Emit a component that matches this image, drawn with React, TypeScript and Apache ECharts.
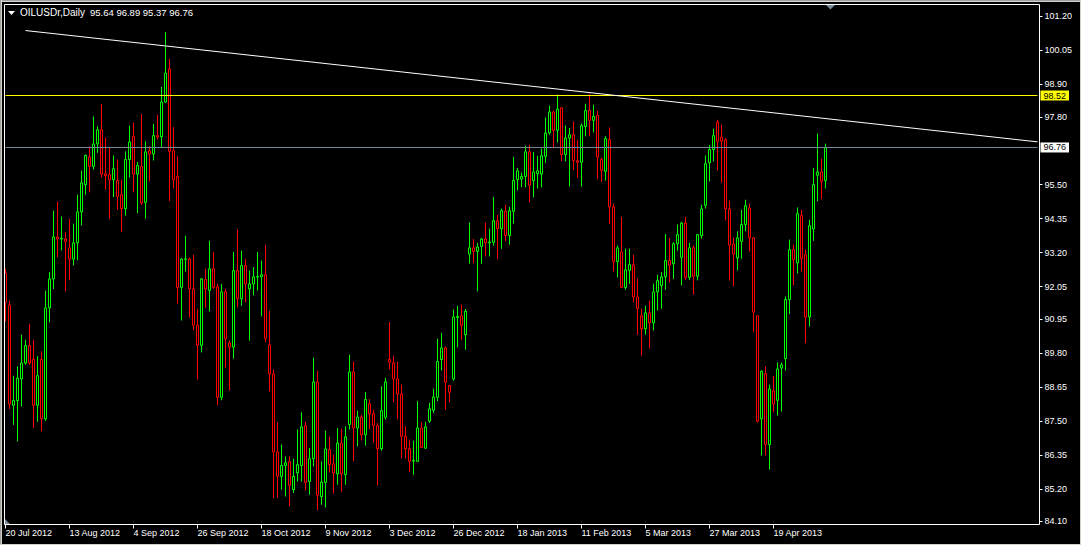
import React, { useEffect, useRef } from 'react';
import * as echarts from 'echarts';

const SYMBOL = 'OILUSDr,Daily';
const FONT = '"Liberation Sans", Arial, sans-serif';
const MONTHS = ['Jan', 'Feb', 'Mar', 'Apr', 'May', 'Jun', 'Jul', 'Aug', 'Sep', 'Oct', 'Nov', 'Dec'];
const START = [2012, 6, 20];
const HOLIDAYS = ['2012-12-25', '2013-01-01', '2013-03-29'];
const TOTAL_SLOTS = 259;
const LABEL_EVERY = 16;

const opens = [
  92.51, 91.43, 88.03, 88.19, 88.92, 89.46, 90.05, 89.58, 88.03, 89.58,
  87.57, 91.33, 92.31, 93.73, 93.66, 93.66, 93.36, 92.98, 93.53, 94.58,
  95.50, 96.44, 96.12, 96.88, 97.36, 95.87, 95.84, 95.67, 95.65, 95.16,
  94.69, 96.35, 97.14, 95.86, 96.12, 94.90, 96.65, 96.54, 97.16, 97.12,
  98.30, 99.42, 96.65, 95.78, 92.02, 92.97, 92.98, 91.97, 90.74, 90.06,
  92.28, 91.92, 92.65, 92.04, 88.30, 91.87, 90.14, 90.00, 92.59, 91.64,
  92.76, 91.97, 92.14, 92.37, 92.38, 92.45, 90.08, 89.09, 86.45, 85.62,
  85.99, 86.12, 85.17, 85.74, 85.99, 87.34, 85.45, 86.22, 88.82, 84.94,
  85.42, 86.53, 86.05, 85.71, 86.75, 85.68, 87.38, 89.16, 87.26, 87.63,
  87.03, 88.08, 87.74, 87.34, 86.56, 87.62, 89.58, 89.46, 88.92, 88.41,
  86.98, 86.56, 86.14, 86.13, 87.26, 86.58, 87.49, 87.86, 88.30, 89.58,
  89.97, 88.70, 88.92, 91.00, 91.06, 90.42, 93.15, 93.36, 93.24, 93.41,
  93.66, 93.53, 93.55, 94.28, 94.01, 94.60, 93.78, 94.60, 95.67, 95.69,
  95.78, 96.61, 95.64, 95.87, 95.86, 96.46, 97.25, 97.96, 97.34, 98.10,
  96.52, 97.08, 97.19, 96.31, 96.26, 97.47, 98.01, 97.68, 97.84, 96.35,
  95.95, 97.03, 94.75, 92.90, 93.22, 92.02, 92.60, 92.79, 91.70, 91.06,
  90.62, 91.16, 90.82, 91.87, 92.08, 92.38, 92.93, 92.82, 93.50, 93.04,
  94.20, 92.36, 93.36, 92.40, 93.77, 94.80, 96.24, 96.69, 97.62, 97.11,
  97.02, 94.68, 93.49, 93.02, 93.58, 94.15, 94.71, 93.70, 91.06, 87.57,
  89.10, 86.70, 88.52, 88.20, 89.29, 89.61, 91.61, 93.30, 92.85, 94.45,
  93.13, 91.02, 94.00, 95.82, 95.93, 95.64,
];

const closes = [
  91.52, 88.07, 88.19, 88.95, 89.46, 90.05, 89.46, 88.03, 89.03, 87.57,
  91.33, 92.31, 93.73, 93.66, 93.68, 93.58, 92.98, 93.53, 94.58, 95.56,
  96.49, 96.12, 96.88, 97.36, 95.86, 95.81, 95.67, 96.04, 95.10, 94.69,
  96.35, 96.95, 95.86, 96.15, 94.88, 96.61, 96.54, 97.16, 97.12, 98.30,
  99.28, 96.63, 95.67, 92.02, 92.98, 92.99, 91.97, 90.74, 90.06, 92.31,
  91.97, 92.65, 92.02, 88.30, 91.87, 90.28, 90.00, 92.59, 91.64, 92.76,
  92.14, 92.14, 92.38, 92.39, 92.45, 90.29, 89.09, 86.45, 85.62, 85.99,
  86.08, 85.32, 85.62, 86.02, 87.30, 85.42, 86.22, 88.82, 84.98, 85.43,
  86.55, 86.02, 85.74, 86.75, 85.71, 86.96, 89.16, 87.26, 87.63, 87.03,
  88.22, 87.74, 87.34, 86.56, 87.85, 88.82, 89.49, 88.92, 88.41, 86.98,
  86.56, 86.13, 86.16, 87.26, 86.60, 87.30, 87.91, 88.31, 89.51, 89.97,
  88.81, 88.47, 91.02, 91.04, 90.74, 91.21, 93.36, 93.24, 93.39, 93.66,
  93.53, 93.56, 94.28, 94.01, 94.62, 93.78, 94.62, 95.64, 95.97, 95.78,
  96.61, 95.48, 95.93, 95.97, 96.48, 97.25, 97.96, 97.34, 98.06, 96.52,
  97.08, 97.19, 96.32, 96.26, 97.50, 98.01, 97.68, 97.81, 96.44, 95.99,
  97.06, 94.75, 92.90, 93.36, 92.02, 92.62, 92.79, 91.70, 91.30, 90.62,
  91.16, 90.82, 91.87, 92.25, 92.38, 92.93, 92.77, 93.50, 93.81, 94.20,
  92.36, 93.36, 92.40, 93.81, 94.68, 96.21, 96.69, 97.16, 96.97, 96.97,
  94.68, 93.45, 93.15, 93.70, 94.15, 94.79, 93.70, 91.19, 87.49, 89.18,
  86.70, 88.58, 88.07, 89.26, 89.40, 91.61, 93.30, 92.96, 94.52, 92.99,
  91.02, 94.11, 95.50, 95.93, 95.61, 96.76,
];

const lows = [
  90.87, 87.90, 87.37, 86.81, 87.99, 89.40, 89.40, 87.26, 87.47, 87.15,
  87.50, 90.84, 91.97, 93.04, 93.28, 91.89, 92.26, 92.77, 92.94, 94.12,
  95.16, 95.24, 96.01, 96.58, 95.74, 95.33, 94.35, 95.08, 94.65, 93.89,
  94.45, 95.74, 95.24, 94.54, 94.82, 94.35, 95.61, 96.32, 97.03, 96.76,
  98.27, 94.94, 95.37, 91.47, 90.90, 92.56, 91.00, 90.57, 88.90, 89.82,
  91.33, 91.21, 91.97, 88.03, 88.20, 89.31, 88.53, 89.61, 91.35, 91.40,
  91.51, 90.22, 91.75, 91.92, 91.04, 90.16, 88.50, 84.87, 84.89, 85.17,
  84.94, 84.61, 85.06, 85.45, 85.45, 85.14, 85.00, 85.96, 84.47, 84.66,
  84.57, 85.76, 85.04, 85.34, 85.09, 85.34, 87.21, 86.13, 86.64, 86.84,
  86.66, 87.23, 86.77, 85.31, 86.49, 87.54, 89.24, 88.13, 87.57, 86.22,
  86.22, 85.77, 85.68, 86.12, 86.58, 86.55, 87.43, 87.77, 88.17, 89.21,
  87.88, 88.13, 88.86, 89.99, 90.25, 89.91, 92.83, 92.85, 91.89, 92.82,
  93.07, 93.07, 93.44, 92.99, 93.33, 93.58, 93.47, 94.18, 95.31, 95.42,
  95.41, 94.90, 95.07, 95.37, 95.41, 96.24, 97.19, 96.74, 96.93, 96.29,
  96.29, 95.44, 95.99, 95.73, 95.44, 97.14, 97.14, 97.27, 95.70, 95.60,
  95.64, 94.17, 92.56, 92.36, 92.00, 91.94, 92.14, 91.51, 90.42, 89.71,
  90.42, 89.95, 90.57, 91.24, 91.30, 91.94, 92.19, 92.31, 93.27, 92.09,
  92.28, 92.28, 91.78, 92.26, 93.67, 94.69, 95.61, 96.29, 95.99, 95.57,
  94.29, 92.26, 92.06, 92.60, 92.99, 93.92, 93.24, 90.52, 87.45, 86.33,
  86.33, 85.85, 87.79, 87.68, 87.82, 89.21, 91.12, 92.09, 92.49, 92.56,
  90.13, 90.70, 93.60, 94.94, 95.02, 95.37,
];

const highs = [
  92.65, 91.57, 89.03, 89.35, 90.42, 90.25, 90.79, 90.25, 89.69, 89.86,
  91.91, 92.54, 94.62, 94.93, 94.42, 93.89, 94.35, 94.18, 95.16, 95.97,
  96.52, 96.80, 97.81, 97.48, 98.24, 97.10, 96.78, 96.49, 96.35, 95.67,
  96.63, 97.50, 97.61, 96.27, 97.90, 96.97, 96.80, 97.56, 97.87, 98.81,
  100.67, 99.76, 97.45, 96.46, 93.02, 93.77, 93.03, 93.13, 91.29, 92.34,
  92.65, 93.60, 93.22, 92.14, 92.14, 91.97, 90.22, 93.22, 93.98, 93.27,
  92.99, 92.59, 92.71, 93.22, 92.93, 93.45, 91.23, 89.24, 87.45, 86.70,
  86.30, 86.30, 86.22, 87.21, 87.79, 87.47, 86.58, 89.64, 89.20, 86.13,
  87.17, 86.96, 86.36, 87.26, 87.23, 87.32, 89.74, 89.51, 87.85, 87.71,
  88.48, 88.24, 87.88, 87.43, 88.67, 88.96, 90.85, 89.71, 89.51, 88.73,
  87.32, 86.87, 86.83, 88.17, 87.45, 87.47, 88.11, 88.59, 90.28, 90.48,
  90.02, 88.71, 91.27, 91.40, 91.44, 91.29, 94.22, 93.66, 93.53, 93.70,
  94.22, 94.01, 95.08, 94.48, 94.69, 94.82, 94.75, 96.44, 96.07, 95.91,
  96.82, 96.85, 96.61, 96.48, 96.72, 97.78, 98.18, 98.01, 98.55, 98.13,
  97.50, 97.42, 97.64, 97.02, 97.57, 98.24, 98.58, 98.21, 98.01, 96.41,
  97.14, 97.44, 94.86, 93.44, 94.41, 93.33, 93.33, 93.13, 92.32, 91.29,
  91.40, 91.57, 92.15, 92.45, 92.54, 93.83, 93.70, 93.55, 94.15, 94.24,
  94.41, 93.53, 93.44, 93.83, 94.82, 96.49, 96.85, 97.40, 97.70, 97.53,
  97.08, 94.96, 93.70, 93.92, 94.65, 94.99, 94.86, 93.73, 91.06, 89.21,
  89.35, 88.73, 89.03, 89.48, 89.48, 91.72, 93.64, 93.47, 94.73, 94.65,
  93.30, 94.31, 96.07, 97.23, 96.38, 96.89,
];

const priceTicks = [84.10, 85.20, 86.35, 87.50, 88.65, 89.80, 90.95, 92.05, 93.20, 94.35, 95.50, 97.80, 98.90, 100.05, 101.20];
const PRICE_MIN = 83.992;
const PRICE_MAX = 101.602;
const LEVEL_PRICE = 98.52;
const TREND_START = { index: 5, price: 100.72 };
const TREND_END = { index: 258, price: 96.95 };

function buildDates(): string[] {
  const out: string[] = [];
  const d = new Date(Date.UTC(START[0], START[1], START[2]));
  while (out.length < TOTAL_SLOTS) {
    const wd = d.getUTCDay();
    const iso = d.toISOString().slice(0, 10);
    if (wd !== 0 && wd !== 6 && !HOLIDAYS.includes(iso)) {
      out.push(`${d.getUTCDate()} ${MONTHS[d.getUTCMonth()]} ${d.getUTCFullYear()}`);
    }
    d.setUTCDate(d.getUTCDate() + 1);
  }
  return out;
}

function levelSeries(name: string, value: number, lineColor: string, boxColor: string) {
  return {
    name,
    type: 'line',
    data: [
      [0, value],
      [TOTAL_SLOTS - 1, value],
    ],
    symbol: 'none',
    showSymbol: false,
    silent: true,
    clip: false,
    z: 3,
    itemStyle: { color: lineColor },
    lineStyle: { color: lineColor, width: 1, type: 'solid' },
    emphasis: { disabled: true },
    endLabel: {
      show: true,
      formatter: value.toFixed(2),
      distance: 3,
      backgroundColor: boxColor,
      color: '#000000',
      fontSize: 9,
      fontFamily: FONT,
      lineHeight: 10,
      padding: [0, 3, 0, 3],
    },
  };
}

export default function App() {
  const ref = useRef<HTMLDivElement>(null);

  useEffect(() => {
    document.body.style.margin = '0';
    document.body.style.background = '#000';
    if (!ref.current) return;
    const chart = echarts.init(ref.current, undefined, { renderer: 'svg' });
    const dates = buildDates();
    const n = opens.length;
    const candles = opens.map((o, i) => [o, closes[i], lows[i], highs[i]]);
    const last = n - 1;
    const lastClose = closes[last];
    const header = [opens[last], highs[last], lows[last], closes[last]].map((v) => v.toFixed(2)).join(' ');
    const showIdx = (i: number) => i % LABEL_EVERY === 0 && i < n;

    const option: any = {
      animation: false,
      backgroundColor: '#000000',
      textStyle: { fontFamily: FONT },
      tooltip: { show: false },
      grid: { left: 3.5, right: 41.5, top: 4.5, bottom: 20.5, show: false },
      xAxis: {
        type: 'category',
        data: dates,
        boundaryGap: true,
        axisLine: { show: false },
        axisTick: {
          show: true,
          alignWithLabel: true,
          interval: (i: number) => showIdx(i),
          length: 4,
          lineStyle: { color: '#ffffff', width: 1 },
        },
        axisLabel: {
          show: true,
          interval: (i: number) => showIdx(i),
          color: '#ffffff',
          fontSize: 9,
          fontFamily: FONT,
          align: 'left',
          margin: 4,
        },
        splitLine: { show: false },
      },
      yAxis: {
        type: 'value',
        position: 'right',
        min: PRICE_MIN,
        max: PRICE_MAX,
        axisLine: { show: false },
        axisTick: {
          show: true,
          customValues: priceTicks,
          length: 3,
          lineStyle: { color: '#ffffff', width: 1 },
        },
        axisLabel: {
          show: true,
          customValues: priceTicks,
          formatter: (v: number) => v.toFixed(2),
          color: '#ffffff',
          fontSize: 9,
          fontFamily: FONT,
          margin: 5,
        },
        splitLine: { show: false },
      },
      series: [
        {
          name: 'OILUSDr',
          type: 'candlestick',
          data: candles,
          barWidth: 2,
          silent: true,
          z: 2,
          itemStyle: {
            color: '#000000',
            color0: '#000000',
            borderColor: '#00ff00',
            borderColor0: '#ff0000',
            borderWidth: 1,
          },
          emphasis: { disabled: true },
        },
        levelSeries('level', LEVEL_PRICE, '#ffff00', '#ffff00'),
        levelSeries('bid', lastClose, '#778899', '#ffffff'),
        {
          name: 'trend',
          type: 'line',
          data: [
            [TREND_START.index, TREND_START.price],
            [TREND_END.index, TREND_END.price],
          ],
          symbol: 'none',
          showSymbol: false,
          silent: true,
          z: 4,
          itemStyle: { color: '#ffffff' },
          lineStyle: { color: '#ffffff', width: 1, type: 'solid' },
          emphasis: { disabled: true },
        },
      ],
      graphic: [
        { type: 'line', shape: { x1: 0, y1: 0.5, x2: 1081, y2: 0.5 }, style: { stroke: '#a0a0a0', lineWidth: 1 }, silent: true },
        { type: 'line', shape: { x1: 0, y1: 1.5, x2: 1081, y2: 1.5 }, style: { stroke: '#d4d0c8', lineWidth: 1 }, silent: true },
        { type: 'line', shape: { x1: 0.5, y1: 0, x2: 0.5, y2: 545 }, style: { stroke: '#a0a0a0', lineWidth: 1 }, silent: true },
        { type: 'line', shape: { x1: 1.5, y1: 0, x2: 1.5, y2: 545 }, style: { stroke: '#d4d0c8', lineWidth: 1 }, silent: true },
        { type: 'line', shape: { x1: 0, y1: 544.5, x2: 1081, y2: 544.5 }, style: { stroke: '#d4d0c8', lineWidth: 1 }, silent: true },
        { type: 'line', shape: { x1: 1080.5, y1: 0, x2: 1080.5, y2: 545 }, style: { stroke: '#d4d0c8', lineWidth: 1 }, silent: true },
        {
          type: 'rect',
          shape: { x: 4.5, y: 4.5, width: 1035, height: 520 },
          style: { fill: 'none', stroke: '#ffffff', lineWidth: 1 },
          silent: true,
          z: 10,
        },
        { type: 'polygon', shape: { points: [[8, 11], [15, 11], [11.5, 15]] }, style: { fill: '#ffffff' }, silent: true },
        {
          type: 'text',
          x: 20,
          y: 7.5,
          style: { text: SYMBOL, fill: '#ffffff', fontSize: 10, fontFamily: FONT, verticalAlign: 'top' },
          silent: true,
        },
        {
          type: 'text',
          x: 90,
          y: 7.5,
          style: { text: header, fill: '#ffffff', fontSize: 9.5, fontFamily: FONT, verticalAlign: 'top' },
          silent: true,
        },
        { type: 'polygon', shape: { points: [[826, 5], [835, 5], [830.5, 9.5]] }, style: { fill: '#778899' }, silent: true },
        { type: 'polygon', shape: { points: [[5, 519], [5, 524], [10, 524]] }, style: { fill: '#778899' }, silent: true },
      ],
    };

    chart.setOption(option);
    return () => {
      chart.dispose();
    };
  }, []);

  return <div ref={ref} style={{ width: 1081, height: 545, background: '#000' }} />;
}
